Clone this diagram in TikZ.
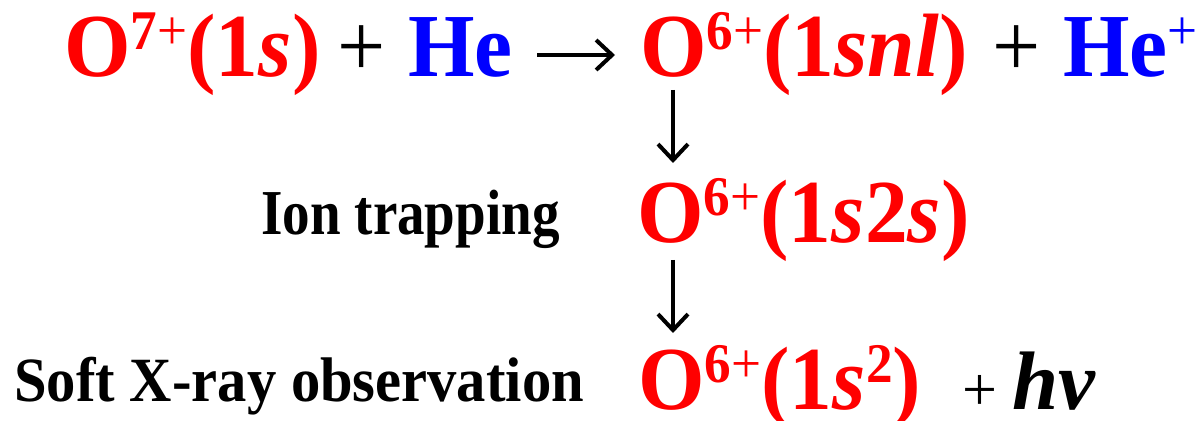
\documentclass[tikz,border=0pt]{standalone}
\usepackage{fontspec}
\setmainfont{Liberation Serif}
\newfontfamily\ionfont{Liberation Serif}[FakeStretch=0.95]
\newfontfamily\trapfont{Liberation Serif}[FakeStretch=0.86]
\newfontfamily\obsfont{Liberation Serif}[FakeStretch=0.93]
\usepackage{xcolor}
\usetikzlibrary{arrows.meta,calc}
\definecolor{IonRed}{RGB}{255,0,0}
\definecolor{AtomBlue}{RGB}{0,0,255}
\newcommand{\upnum}[1]{\raisebox{13.5pt}{\fontsize{28}{30}\selectfont #1}}
\newcommand{\chg}[1]{\upnum{#1{\mdseries +}}}
\tikzset{
  ion/.style={font=\ionfont\fontsize{45}{50}\selectfont\bfseries, text=IonRed, inner sep=0, anchor=base west},
  atom/.style={ion, text=AtomBlue},
  op/.style={font=\ionfont\fontsize{45}{50}\selectfont, inner sep=0, anchor=base west},
  steplabel/.style={inner sep=0, anchor=base west},
  arr/.style={-{Straight Barb[length=8pt,width=15pt]}, line width=2pt}
}
\begin{document}
\begin{tikzpicture}[x=0.5pt,y=-0.5pt]
  \useasboundingbox (0,0) rectangle (1204,421);
  % capture reaction
  \node[ion] (o7) at (64,77) {O\chg{7}(1\textit{s})};
  \node[op] (pl1) at (337,77) {+};
  \node[atom] (he) at (408,77) {He};
  \node[ion] (snl) at (640,77) {O\chg{6}(1\textit{snl})};
  \node[op] (pl2) at (992,77) {+};
  \node[atom] (hep) at (1063,77) {He\upnum{\mdseries +}};
  % cascade
  \node[steplabel, font=\trapfont\fontsize{32}{34}\selectfont\bfseries] (trap) at (261,235) {Ion trapping};
  \node[ion] (s2s) at (637,243) {O\chg{6}(1\textit{s}2\textit{s})};
  \node[steplabel, font=\obsfont\fontsize{31.5}{34}\selectfont\bfseries] (xray) at (14,402) {Soft X-ray observation};
  \node[ion] (gs) at (638,410) {O\chg{6}(1\textit{s}\upnum{2})};
  \node[op, font=\fontsize{31}{33}\selectfont] (pl3) at (962,411) {+};
  \node[inner sep=0, anchor=base west, font=\bfseries\itshape\fontsize{41.5}{46}\selectfont] (hv) at (1012,410) {hv};
  \draw[arr] ($(he.base east)+(24,-22)$) -- ($(snl.base west)+(-25,-22)$);
  \draw[arr] ($(snl.base west)+(33,13)$) -- ($(s2s.base west)+(36,-80)$);
  \draw[arr] ($(s2s.base west)+(36,17)$) -- ($(gs.base west)+(35,-77)$);
\end{tikzpicture}
\end{document}
